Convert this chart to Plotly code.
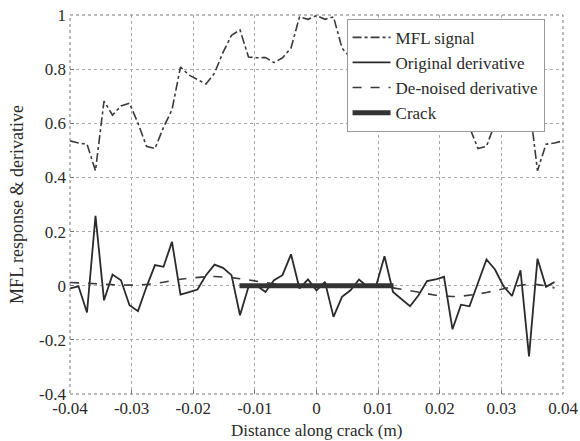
import numpy as np
import plotly.graph_objects as go

# Sampling positions along the crack (m): 59 samples over [-0.04, 0.04]
position = np.linspace(-0.04, 0.04, 59)

# Measured MFL response (normalised)
mfl_signal = [
    0.535, 0.527, 0.523, 0.425, 0.682, 0.630, 0.664, 0.674, 0.600, 0.515,
    0.507, 0.585, 0.650, 0.808, 0.778, 0.760, 0.745, 0.785, 0.862, 0.925,
    0.945, 0.845, 0.842, 0.843, 0.824, 0.842, 0.878, 0.993, 0.984, 0.998,
    0.984, 0.993, 0.878, 0.842, 0.824, 0.843, 0.842, 0.845, 0.945, 0.925,
    0.862, 0.785, 0.745, 0.760, 0.778, 0.808, 0.650, 0.585, 0.507, 0.515,
    0.600, 0.674, 0.664, 0.630, 0.682, 0.425, 0.523, 0.527, 0.535,
]

# First difference of the signal (58 values, one per sample interval)
original_derivative = [
    -0.010, -0.002, -0.099, 0.258, -0.054, 0.041, 0.020, -0.072, -0.094, -0.004,
    0.076, 0.070, 0.162, -0.033, -0.024, -0.014, 0.039, 0.078, 0.066, 0.039,
    -0.109, -0.004, 0.000, -0.023, 0.020, 0.039, 0.116, -0.010, 0.023, -0.017,
    0.014, -0.115, -0.041, -0.017, 0.023, -0.004, -0.002, 0.109, -0.023, -0.050,
    -0.076, -0.035, 0.017, 0.023, 0.033, -0.161, -0.070, -0.076, 0.008, 0.097,
    0.060, -0.002, -0.038, 0.057, -0.261, 0.100, -0.004, 0.014,
]

# Wavelet de-noised derivative
denoised_derivative = [
    0.012, 0.011, 0.010, 0.008, 0.006, 0.004, 0.002, 0.002, 0.002, 0.004,
    0.008, 0.013, 0.019, 0.024, 0.028, 0.031, 0.033, 0.034, 0.033, 0.030,
    0.026, 0.021, 0.015, 0.010, 0.005, 0.002, 0.000, -0.001, -0.002, -0.002,
    -0.002, -0.001, 0.000, 0.001, 0.002, 0.002, 0.000, -0.003, -0.008, -0.013,
    -0.019, -0.025, -0.030, -0.035, -0.038, -0.040, -0.039, -0.036, -0.031, -0.025,
    -0.018, -0.011, -0.004, 0.002, 0.005, 0.004, 0.000, -0.008,
]

# Crack extent (m)
crack_x = [-0.0125, 0.0125]
crack_y = [0.0, 0.0]

# Axis ticks
x_ticks = [-0.04, -0.03, -0.02, -0.01, 0, 0.01, 0.02, 0.03, 0.04]
x_tick_labels = ["-0.04", "-0.03", "-0.02", "-0.01", "0", "0.01", "0.02", "0.03", "0.04"]
y_ticks = [-0.4, -0.2, 0, 0.2, 0.4, 0.6, 0.8, 1]
y_tick_labels = ["-0.4", "-0.2", "0", "0.2", "0.4", "0.6", "0.8", "1"]

deriv_x = position[:-1]

SERIF = "Liberation Serif, Times New Roman, serif"
INK = "#2a2a2a"

fig = go.Figure()
fig.add_trace(go.Scatter(
    x=position, y=mfl_signal, mode="lines", name="MFL signal",
    line=dict(color="#3a3a3a", width=1.6, dash="dashdot"),
))
fig.add_trace(go.Scatter(
    x=deriv_x, y=original_derivative, mode="lines", name="Original derivative",
    line=dict(color=INK, width=1.8),
))
fig.add_trace(go.Scatter(
    x=deriv_x, y=denoised_derivative, mode="lines", name="De-noised derivative",
    line=dict(color="#3a3a3a", width=1.6, dash="dash"),
))
fig.add_trace(go.Scatter(
    x=crack_x, y=crack_y, mode="lines", name="Crack",
    line=dict(color="#333333", width=5),
))

axis_common = dict(
    showgrid=True, gridcolor="#aaaaaa", gridwidth=1, griddash="dot",
    zeroline=False, showline=False, automargin=False,
    ticks="inside", ticklen=4, tickcolor="#777777",
    tickfont=dict(family=SERIF, size=17, color=INK),
)

fig.update_xaxes(
    range=[-0.04, 0.04], tickvals=x_ticks, ticktext=x_tick_labels,
    ticklabelstandoff=2,
    **axis_common,
)
fig.update_yaxes(
    range=[-0.4, 1.0], tickvals=y_ticks, ticktext=y_tick_labels,
    title=dict(text="MFL response & derivative", font=dict(family=SERIF, size=18, color=INK), standoff=10),
    ticklabelstandoff=3,
    **axis_common,
)

# x-axis title, placed just under the tick labels
fig.add_annotation(
    text="Distance along crack (m)", xref="paper", yref="paper",
    x=0.5, y=-0.095, xanchor="center", yanchor="middle", showarrow=False,
    font=dict(family=SERIF, size=17, color=INK),
)

# Plot frame
fig.add_shape(
    type="rect", xref="paper", yref="paper", x0=0, y0=0, x1=1, y1=1,
    line=dict(color="#777777", width=1, dash="dot"), layer="above",
)

fig.update_layout(
    width=580, height=441,
    margin=dict(l=70, r=17, t=15, b=47),
    paper_bgcolor="white", plot_bgcolor="white",
    font=dict(family=SERIF, size=18, color=INK),
    showlegend=True,
    legend=dict(
        x=0.561, y=0.99, xanchor="left", yanchor="top",
        bgcolor="white", bordercolor="#999999", borderwidth=1,
        font=dict(family=SERIF, size=17, color=INK),
        itemwidth=38, tracegroupgap=0,
    ),
)

fig.write_html("out.html")
